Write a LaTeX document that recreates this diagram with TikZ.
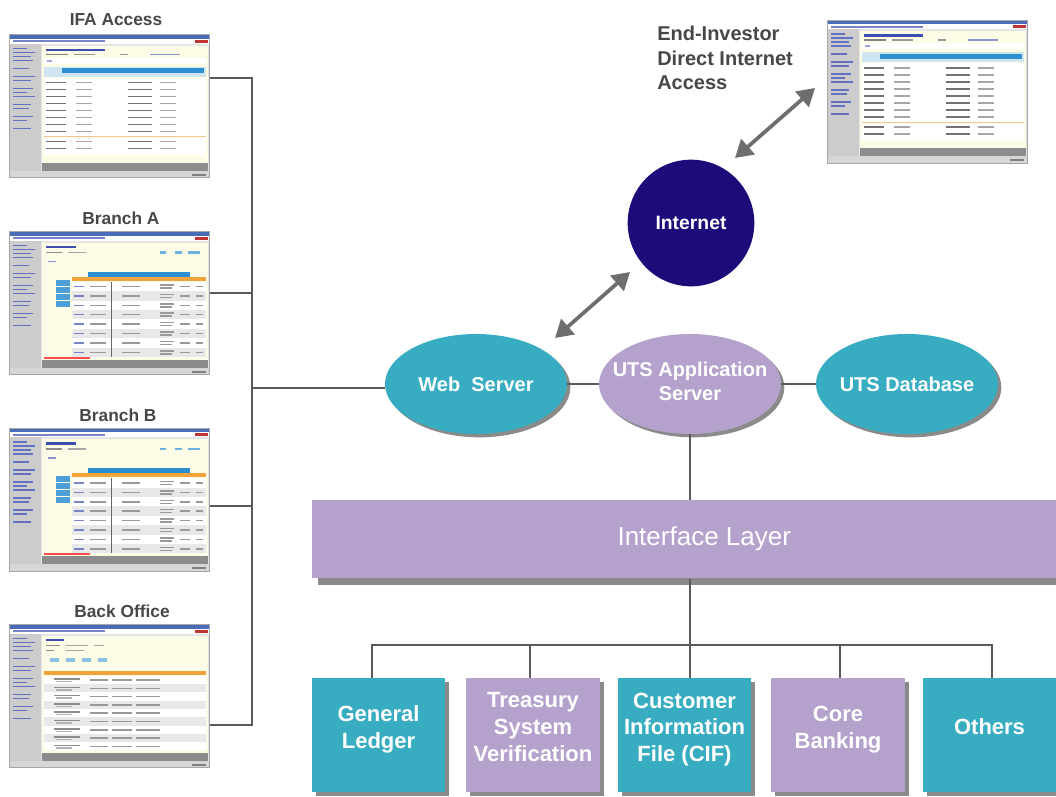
\documentclass[tikz,border=0pt]{standalone}
\usepackage{fontspec}
\setmainfont{Liberation Sans}
\usetikzlibrary{shapes.geometric,arrows.meta,shadows}
\definecolor{tealc}{HTML}{38ADC1}
\definecolor{lilac}{HTML}{B4A2CC}
\definecolor{navy}{HTML}{1D0B7A}
\definecolor{linec}{HTML}{5A5A5A}
\definecolor{arrowc}{HTML}{6E6E6E}
\definecolor{shadowc}{HTML}{8A8A8A}
\definecolor{labelc}{HTML}{474747}
\definecolor{titlebl}{HTML}{4A6CB8}
\definecolor{linkbl}{HTML}{3C4FB0}
\definecolor{paleyel}{HTML}{FBFBE6}
\definecolor{barbl}{HTML}{2E8FD0}
\definecolor{lightbl}{HTML}{CFE6F2}
\definecolor{orangec}{HTML}{F2A23A}
\definecolor{winbg}{HTML}{E4E4E4}
\tikzset{
  conn/.style={draw=linec, line width=2.2pt},
  dblarrow/.style={draw=arrowc, line width=2.8pt, {Triangle[length=13pt,width=15pt]}-{Triangle[length=13pt,width=15pt]}},
  shotbox/.style={rectangle, inner sep=0pt, minimum width=150pt, minimum height=107.25pt},
  shotlabel/.style={font=\bfseries\fontsize{13}{15}\selectfont, text=labelc, inner sep=0pt},
  oval/.style={ellipse, inner sep=0pt, minimum width=136.5pt, minimum height=75pt, text=white,
    font=\bfseries\fontsize{15}{18}\selectfont,
    general shadow={fill=shadowc, shadow xshift=2.5pt, shadow yshift=-2.5pt}},
  sysbox/.style={rectangle, inner sep=0pt, minimum width=100pt, minimum height=85.5pt, text=white,
    font=\bfseries\fontsize{16.5}{20}\selectfont, align=center, text depth=12pt,
    general shadow={fill=shadowc, shadow xshift=3pt, shadow yshift=-3pt}},
  winframe/.pic={
    \fill[winbg] (0,0) rectangle (200,143);
    \fill[titlebl] (0,0) rectangle (200,4);
    \fill[white] (0,4) rectangle (200,9);
    \fill[linkbl!70] (3,5.6) rectangle (95,7.4);
    \fill[red!70!black!80] (185,4.8) rectangle (198,8.2);
    \fill[black!20] (0,9) rectangle (31,136);
    \foreach \yy/\ww in {13/14,17/22,21/18,25/20,33/16,41/22,45/18,53/20,57/14,61/22,69/18,73/16,81/20,85/14,93/18}
      \fill[linkbl!80] (3,\yy) rectangle (3+\ww,\yy+1.6);
    \fill[paleyel] (32,11) rectangle (198,128);
    \fill[black!45] (32,128) rectangle (198,136);
    \fill[black!16] (0,136) rectangle (200,143);
    \fill[black!50] (182,139) rectangle (196,141);
    \draw[black!35, line width=0.4pt] (0,0) rectangle (200,143);
  },
  formbody/.pic={
    \fill[linkbl] (36,14) rectangle (95,16.5);
    \fill[black!50] (36,19) rectangle (58,20.5);
    \fill[black!40] (64,19) rectangle (85,20.5);
    \fill[black!40] (110,19) rectangle (118,20.5);
    \fill[linkbl!60] (140,19) rectangle (170,20.5);
    \fill[white] (34,23) rectangle (196,29);
    \fill[linkbl!50] (37,25) rectangle (42,27);
    \fill[lightbl] (34,32) rectangle (196,42);
    \fill[barbl] (52,33.5) rectangle (194,38.5);
    \fill[white] (34,43) rectangle (196,120);
    \foreach \yy in {47,54,61,68,75,82,89,96,106,113}{
      \fill[black!55] (36,\yy) rectangle (56,\yy+1.5);
      \fill[black!35] (66,\yy) rectangle (82,\yy+1.5);
      \fill[black!55] (118,\yy) rectangle (142,\yy+1.5);
      \fill[black!35] (150,\yy) rectangle (166,\yy+1.5);
    }
    \draw[orangec!60, line width=0.5pt] (34,102) -- (196,102);
  },
  tablebody/.pic={
    \fill[linkbl] (36,14) rectangle (66,16.5);
    \fill[black!45] (36,20) rectangle (52,21.5);
    \fill[black!35] (58,20) rectangle (76,21.5);
    \fill[barbl!70] (150,19.5) rectangle (156,22);
    \fill[barbl!70] (165,19.5) rectangle (172,22);
    \fill[barbl!70] (178,19.5) rectangle (190,22);
    \fill[linkbl!60] (38,29) rectangle (46,30.5);
    \fill[barbl] (78,40) rectangle (180,45);
    \fill[orangec] (62,45) rectangle (196,49);
    \foreach \i in {0,...,7}{
      \pgfmathsetmacro\yy{50+\i*9.4}
      \pgfmathtruncatemacro\odd{mod(\i,2)}
      \ifnum\odd=1 \fill[black!9] (62,\yy) rectangle (196,\yy+9.4); \else \fill[white] (62,\yy) rectangle (196,\yy+9.4); \fi
      \fill[linkbl!70] (64,\yy+4) rectangle (74,\yy+5.5);
      \fill[black!40] (80,\yy+4) rectangle (96,\yy+5.5);
      \fill[black!40] (112,\yy+4) rectangle (130,\yy+5.5);
      \fill[black!40] (150,\yy+2.5) rectangle (164,\yy+4);
      \fill[black!40] (150,\yy+5.5) rectangle (162,\yy+7);
      \fill[black!40] (170,\yy+4) rectangle (180,\yy+5.5);
      \fill[black!40] (186,\yy+4) rectangle (193,\yy+5.5);
    }
    \draw[black!60, line width=0.6pt] (102,50) -- (102,125);
    \foreach \yy in {48,55,62,69}
      \fill[barbl!85] (46,\yy) rectangle (60,\yy+6);
    \fill[red!70] (34,125) rectangle (80,127);
  },
  backbody/.pic={
    \fill[linkbl] (36,14) rectangle (54,16.5);
    \fill[black!45] (36,20) rectangle (50,21.5);
    \fill[black!35] (56,20) rectangle (78,21.5);
    \fill[black!35] (84,20) rectangle (94,21.5);
    \fill[black!45] (36,25) rectangle (44,26.5);
    \fill[black!35] (56,25) rectangle (74,26.5);
    \foreach \xx in {40,56,72,88}
      \fill[barbl!55] (\xx,33) rectangle (\xx+9,37);
    \fill[orangec] (34,46) rectangle (196,50);
    \foreach \i in {0,...,8}{
      \pgfmathsetmacro\yy{51+\i*8.3}
      \pgfmathtruncatemacro\odd{mod(\i,2)}
      \ifnum\odd=1 \fill[black!9] (34,\yy) rectangle (196,\yy+8.3); \else \fill[white] (34,\yy) rectangle (196,\yy+8.3); \fi
      \fill[black!45] (44,\yy+2.5) rectangle (70,\yy+4);
      \fill[black!30] (46,\yy+5) rectangle (62,\yy+6.5);
      \fill[black!40] (80,\yy+3.5) rectangle (98,\yy+5);
      \fill[black!40] (102,\yy+3.5) rectangle (122,\yy+5);
      \fill[black!40] (126,\yy+3.5) rectangle (150,\yy+5);
    }
  },
}
\begin{document}
\begin{tikzpicture}[x=0.75pt, y=-0.75pt, line join=miter]
\useasboundingbox (0,0) rectangle (1056,796);
\fill[white] (0,0) rectangle (1056,796);
\clip (0,0) rectangle (1056,796);

% screenshots
\node[shotbox] (ifa) at (110,106.5) {};
\pic at (ifa.north west) {winframe};
\pic at (ifa.north west) {formbody};
\node[shotbox] (bra) at (110,303.5) {};
\pic at (bra.north west) {winframe};
\pic at (bra.north west) {tablebody};
\node[shotbox] (brb) at (110,500) {};
\pic at (brb.north west) {winframe};
\pic at (brb.north west) {tablebody};
\node[shotbox] (bo) at (110,696.5) {};
\pic at (bo.north west) {winframe};
\pic at (bo.north west) {backbody};
\node[shotbox] (eis) at (928,92) {};
\pic at (eis.north west) {winframe};
\pic at (eis.north west) {formbody};

% labels
\node[shotlabel] (ifalbl) at (116,20) {IFA Access};
\node[shotlabel] (bralbl) at (121,218) {Branch A};
\node[shotlabel] (brblbl) at (118,415) {Branch B};
\node[shotlabel] (bolbl) at (122,611) {Back Office};
\node[anchor=north west, align=left, inner sep=0pt, text=labelc,
      font=\bfseries\fontsize{15}{18.4}\selectfont] (eilbl) at (657,26)
      {End-Investor\\Direct Internet\\Access};

% left bus
\coordinate (j1) at (252,78);
\coordinate (j2) at (252,293);
\coordinate (jm) at (252,388);
\coordinate (j3) at (252,506);
\coordinate (j4) at (252,725);
\draw[conn] (ifa.east |- j1) -- (j1) -- (j4) -- (bo.east |- j4);
\draw[conn] (bra.east |- j2) -- (j2);
\draw[conn] (brb.east |- j3) -- (j3);

% central nodes
\node[oval, fill=tealc] (web) at (476,384) {\makebox[0pt]{Web\ \ Server}};
\node[oval, fill=lilac] (app) at (690,384)
  {\makebox[0pt]{\begin{tabular}{@{}c@{}}UTS Application\\Server\end{tabular}}};
\node[oval, fill=tealc] (db) at (907,384) {\makebox[0pt]{UTS Database}};
\node[circle, fill=navy, minimum size=95pt, inner sep=0pt, text=white,
      font=\bfseries\fontsize{14.5}{16}\selectfont] (inet) at (691,223) {Internet};

\draw[conn] (jm) -- (jm -| web.west);
\draw[conn] (web.east) -- (app.west);
\draw[conn] (app.east) -- (db.west);

% interface layer
\node[rectangle, anchor=north west, fill=lilac, minimum width=588pt, minimum height=58.5pt, inner sep=0pt,
      general shadow={fill=shadowc, shadow xshift=4pt, shadow yshift=-5pt},
      text=white, font=\fontsize{19.5}{22}\selectfont] (iface) at (312,500) {Interface Layer};
\draw[conn] (app.south) -- (app.south |- iface.north);

% bottom systems
\node[sysbox, fill=tealc] (gl) at (378.5,735) {General\\Ledger};
\node[sysbox, fill=lilac] (tsv) at (533,735) {Treasury\\System\\Verification};
\node[sysbox, fill=tealc] (cif) at (684.5,735) {Customer\\Information\\File (CIF)};
\node[sysbox, fill=lilac] (cb) at (838,735) {Core\\Banking};
\node[sysbox, fill=tealc] (oth) at (989.5,735) {Others};

\coordinate (c1) at (372,645);
\coordinate (c2) at (530,645);
\coordinate (c3) at (690,645);
\coordinate (c4) at (840,645);
\coordinate (c5) at (992,645);
\draw[conn] (iface.south -| c3) -- (c3);
\draw[conn] (c1 |- gl.north) -- (c1) -- (c5) -- (c5 |- oth.north);
\draw[conn] (c2) -- (c2 |- tsv.north);
\draw[conn] (c3) -- (c3 |- cif.north);
\draw[conn] (c4) -- (c4 |- cb.north);

% arrows
\coordinate (a1) at (735,158);
\coordinate (a2) at (815,88);
\coordinate (a3) at (555,338);
\coordinate (a4) at (630,272);
\draw[dblarrow] (a1) -- (a2);
\draw[dblarrow] (a3) -- (a4);
\end{tikzpicture}
\end{document}
